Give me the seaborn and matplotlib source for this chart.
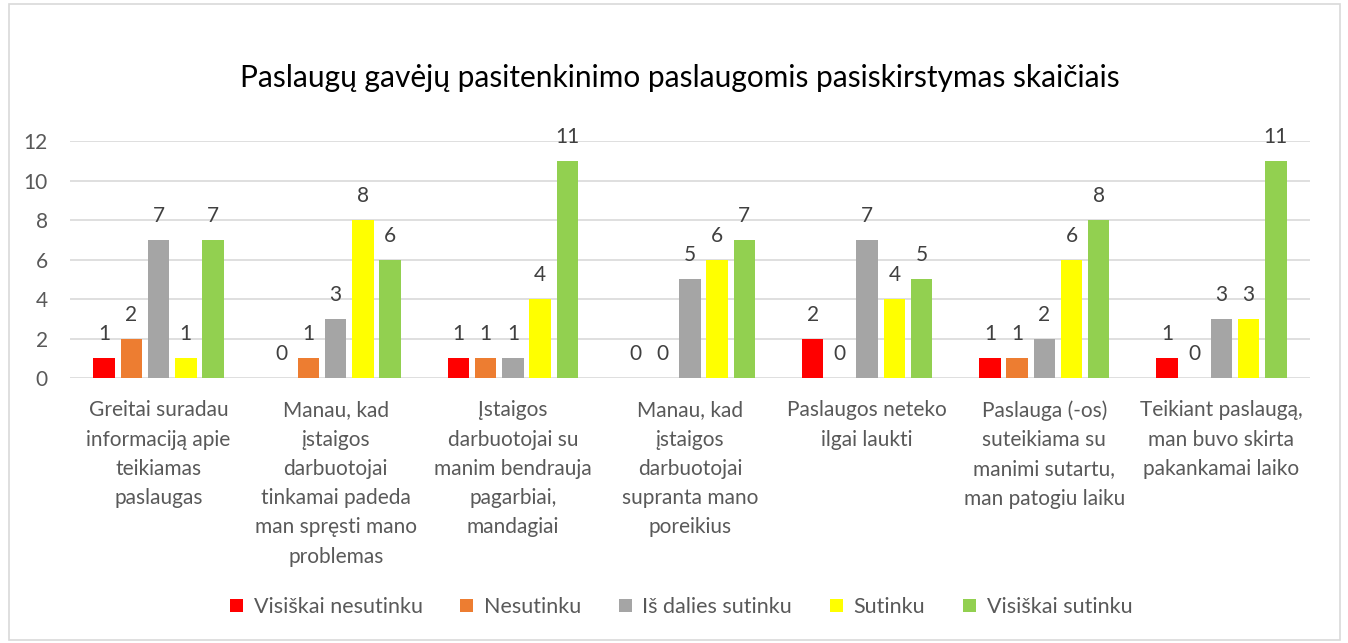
import matplotlib
matplotlib.use('Agg')
from matplotlib import pyplot as plt
from matplotlib.patches import Rectangle
import pandas as pd
import seaborn as sns

## Data
categories = [
    'Greitai suradau\ninformaciją apie\nteikiamas\npaslaugas',
    'Manau, kad\nįstaigos\ndarbuotojai\ntinkamai padeda\nman spręsti mano\nproblemas',
    'Įstaigos\ndarbuotojai su\nmanim bendrauja\npagarbiai,\nmandagiai',
    'Manau, kad\nįstaigos\ndarbuotojai\nsupranta mano\nporeikius',
    'Paslaugos neteko\nilgai laukti',
    'Paslauga (-os)\nsuteikiama su\nmanimi sutartu,\nman patogiu laiku',
    'Teikiant paslaugą,\nman buvo skirta\npakankamai laiko',
]
series = ['Visiškai nesutinku', 'Nesutinku', 'Iš dalies sutinku', 'Sutinku', 'Visiškai sutinku']
visiskai_nesutinku = [1, 0, 1, 0, 2, 1, 1]
nesutinku = [2, 1, 1, 0, 0, 1, 0]
is_dalies = [7, 3, 1, 5, 7, 2, 3]
sutinku = [1, 8, 4, 6, 4, 6, 3]
visiskai_sutinku = [7, 6, 11, 7, 5, 8, 11]
colors = ['#FF0000', '#ED7D31', '#A5A5A5', '#FFFF00', '#92D050']

values = [visiskai_nesutinku, nesutinku, is_dalies, sutinku, visiskai_sutinku]
rows = []
for s, vals in zip(series, values):
    for c, v in zip(categories, vals):
        rows.append({'Kategorija': c, 'Atsakymas': s, 'Skaičius': v})
df = pd.DataFrame(rows)

## Plot
sns.set_style('white')
plt.rcParams['font.family'] = ['Lato', 'DejaVu Sans']
txt = '#595959'
fs = 15

fig = plt.figure(figsize=(13.48, 6.43), dpi=100)
ax = fig.add_axes([70 / 1348, 1 - 378 / 643, 1240 / 1348, 237 / 643])
sns.barplot(data=df, x='Kategorija', y='Skaičius', hue='Atsakymas', hue_order=series,
            order=categories, palette=colors, width=0.768, saturation=1,
            edgecolor='none', ax=ax)

# gaps between bars inside a group
shrink = 0.79
for p in ax.patches:
    w = p.get_width()
    p.set_x(p.get_x() + w * (1 - shrink) / 2)
    p.set_width(w * shrink)

for cont in ax.containers:
    ax.bar_label(cont, fmt='%d', padding=10, fontsize=fs, color='#404040')

ax.set_ylim(0, 12)
ax.set_yticks(range(0, 13, 2))
ax.yaxis.grid(True, color='#D9D9D9', linewidth=1.2)
ax.set_axisbelow(True)
for sp in ax.spines.values():
    sp.set_visible(False)
ax.tick_params(axis='y', length=0, labelsize=fs, colors=txt, pad=16)
ax.tick_params(axis='x', length=0, labelsize=fs, colors=txt, pad=16)
for lab in ax.get_xticklabels():
    lab.set_linespacing(1.58)
ax.set_xlabel('')
ax.set_ylabel('')
fig.text(680 / 1348, 1 - 78 / 643, 'Paslaugų gavėjų pasitenkinimo paslaugomis pasiskirstymas skaičiais',
         fontsize=21.5, color='#000000', ha='center', va='center')

leg = ax.legend(loc='center', bbox_to_anchor=(681 / 1348, 1 - 607 / 643), bbox_transform=fig.transFigure,
                ncol=5, frameon=False, fontsize=15.5, handlelength=0.6, handleheight=0.6,
                columnspacing=1.75, handletextpad=0.5, labelcolor=txt)
for h in leg.legend_handles:
    h.set_edgecolor('none')

fig.patches.append(Rectangle((9 / 1348, 3 / 643), 1331 / 1348, 636 / 643, transform=fig.transFigure,
                             fill=False, edgecolor='#D9D9D9', linewidth=1.2))

fig.savefig('out.png', dpi=100)
